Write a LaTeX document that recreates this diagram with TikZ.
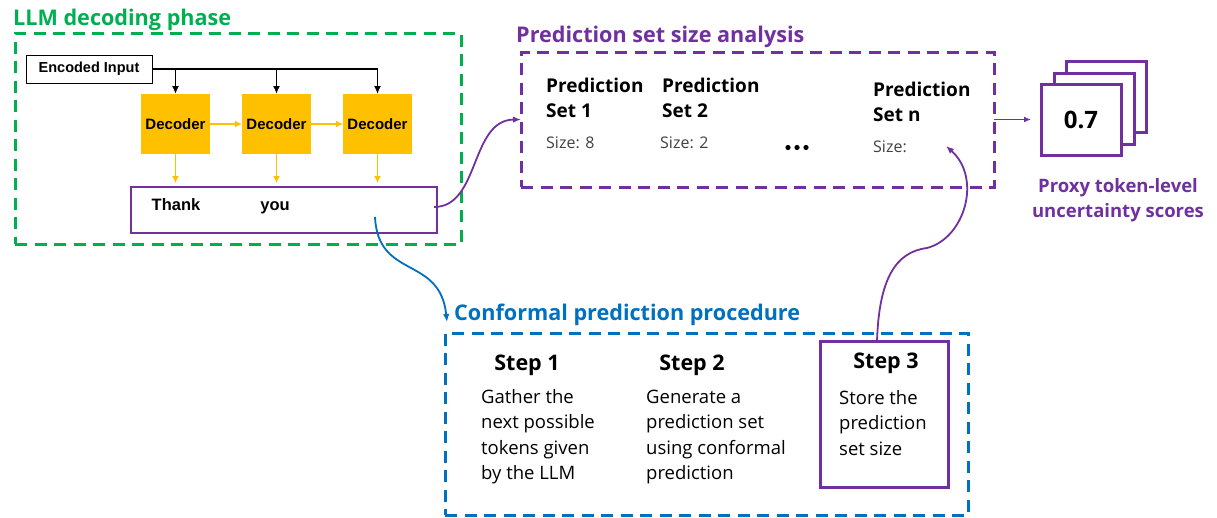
\documentclass[tikz,border=0pt]{standalone}
\usepackage{fontspec}
\setmainfont{Open Sans}
\newfontfamily\arialfont{Liberation Sans}
\usetikzlibrary{arrows.meta}

\definecolor{llmgreen}{RGB}{0,176,80}
\definecolor{setpurple}{RGB}{112,48,160}
\definecolor{cpblue}{RGB}{0,112,192}
\definecolor{decyellow}{RGB}{255,192,0}
\definecolor{sizegray}{RGB}{64,64,64}

\tikzset{
  phasebox/.style={draw, line width=3pt, dash pattern=on 12pt off 7.5pt,
    anchor=north west, inner sep=0pt, outer sep=0pt},
  phasetitle/.style={anchor=base west, inner sep=0pt,
    font=\bfseries\fontsize{21.6}{26}\selectfont},
  decoder/.style={fill=decyellow, minimum width=69pt, minimum height=60pt,
    inner sep=0pt, anchor=north west, outer sep=0pt,
    font=\arialfont\bfseries\fontsize{15}{18}\selectfont},
  arialbold/.style={inner sep=0pt, font=\arialfont\bfseries\fontsize{16.5}{20}\selectfont},
  predhead/.style={anchor=base west, inner sep=0pt, font=\bfseries\fontsize{19}{23}\selectfont},
  sizetxt/.style={anchor=base west, inner sep=0pt, text=sizegray, font=\fontsize{16}{19}\selectfont},
  steptitle/.style={anchor=base, inner sep=0pt, font=\bfseries\fontsize{21.5}{26}\selectfont},
  steptxt/.style={anchor=base west, inner sep=0pt, font=\fontsize{18.5}{22}\selectfont},
  card/.style={draw=setpurple, fill=white, line width=3pt, anchor=north west,
    minimum width=80pt, minimum height=71pt, inner sep=0pt, outer sep=0pt},
  blkarrow/.style={draw=black, line width=1.8pt, -{Latex[length=8pt,width=7pt]}},
  yelarrow/.style={draw=decyellow, line width=1.8pt, -{Latex[length=7pt,width=7pt]}},
  curvearrow/.style={line width=1.8pt, -{Latex[length=8pt,width=6.5pt]}},
}

\begin{document}
\begin{tikzpicture}[x=1pt,y=-1pt]
\useasboundingbox (0,0) rectangle (1217,517);

% ---------- LLM decoding phase ----------
\node[phasetitle, text=llmgreen] (llmtitle) at (13,25) {LLM decoding phase};
\node[phasebox, draw=llmgreen, minimum width=446pt, minimum height=211pt] (llm) at (15,33) {};

\node[draw=black, line width=1pt, anchor=north west, minimum width=126pt,
      minimum height=28pt, inner sep=0pt, outer sep=0pt,
      font=\arialfont\bfseries\fontsize{14.5}{18}\selectfont] (enc) at (26,55) {Encoded Input};

\node[decoder] (dec1) at (141,94) {Decoder};
\node[decoder] (dec2) at (242,94) {Decoder};
\node[decoder] (dec3) at (343,94) {Decoder};

% shared input bus feeding every decoder
\draw[line width=1.8pt] (enc.east) -- (enc.east -| dec3.north);
\draw[blkarrow] (enc.east -| dec1.north) -- (dec1.north);
\draw[blkarrow] (enc.east -| dec2.north) -- (dec2.north);
\draw[blkarrow] (enc.east -| dec3.north) -- (dec3.north);

% generated token strip
\node[draw=setpurple, line width=2pt, anchor=north west, minimum width=306pt,
      minimum height=46pt, inner sep=0pt, outer sep=0pt] (out) at (131,187) {};
\node[arialbold, anchor=base] (thank) at (176,210) {Thank};
\node[arialbold, anchor=base] (you) at (275,210) {you};

\draw[yelarrow] (dec1.east) -- (dec2.west);
\draw[yelarrow] (dec2.east) -- (dec3.west);
\draw[yelarrow, shorten >=4pt] (dec1.south) -- (dec1.south |- out.north);
\draw[yelarrow, shorten >=4pt] (dec2.south) -- (dec2.south |- out.north);
\draw[yelarrow, shorten >=4pt] (dec3.south) -- (dec3.south |- out.north);

% ---------- Prediction set size analysis ----------
\node[phasetitle, text=setpurple] (psatitle) at (516,42) {Prediction set size analysis};
\node[phasebox, draw=setpurple, minimum width=473pt, minimum height=135pt] (psa) at (521,52) {};

\node[predhead] (p1a) at (546,92) {Prediction};
\node[predhead] (p1b) at (546,117) {Set 1};
\node[sizetxt]  (p1c) at (546,148) {Size: 8};
\node[predhead] (p2a) at (662,92) {Prediction};
\node[predhead] (p2b) at (662,117) {Set 2};
\node[sizetxt]  (p2c) at (660,148) {Size: 2};
\node[predhead] (pna) at (873,96) {Prediction};
\node[predhead] (pnb) at (873,121) {Set n};
\node[sizetxt]  (pnc) at (873,152) {Size:};
\foreach \dx in {788,797,806} \fill (\dx,147.5) circle (2.6pt);

% stacked score cards
\node[card] (cardback) at (1066,61) {};
\node[card] (cardmid) at (1054,73) {};
\node[card, font=\bfseries\fontsize{24}{28}\selectfont] (cardfront) at (1041,84) {0.7};
\draw[setpurple, line width=1.8pt, -{Latex[length=7pt,width=6pt]}] (psa.east) -- ([xshift=-10pt]psa.east -| cardfront.west);

\node[anchor=base, inner sep=0pt, text=setpurple,
      font=\bfseries\fontsize{18.5}{25}\selectfont] (proxy1) at (1118,192) {Proxy token-level};
\node[anchor=base, inner sep=0pt, text=setpurple,
      font=\bfseries\fontsize{18.5}{25}\selectfont] (proxy2) at (1118,217) {uncertainty scores};

% ---------- Conformal prediction procedure ----------
\node[phasetitle, text=cpblue] (cpptitle) at (454,320) {Conformal prediction procedure};
\node[phasebox, draw=cpblue, minimum width=523pt, minimum height=182pt] (cpp) at (445,333) {};

\node[draw=setpurple, line width=3pt, anchor=north west, minimum width=128pt,
      minimum height=146pt, inner sep=0pt, outer sep=0pt] (step3box) at (820,341) {};

\node[steptitle] (s1t) at (527,370) {Step 1};
\node[steptxt] (s1l1) at (481,403) {Gather the};
\node[steptxt] (s1l2) at (481,428.5) {next possible};
\node[steptxt] (s1l3) at (481,454) {tokens given};
\node[steptxt] (s1l4) at (481,479.5) {by the LLM};

\node[steptitle] (s2t) at (692,370) {Step 2};
\node[steptxt] (s2l1) at (646,403) {Generate a};
\node[steptxt] (s2l2) at (646,428.5) {prediction set};
\node[steptxt] (s2l3) at (646,454) {using conformal};
\node[steptxt] (s2l4) at (646,479.5) {prediction};

\node[steptitle] (s3t) at (886,368) {Step 3};
\node[steptxt] (s3l1) at (839,404) {Store the};
\node[steptxt] (s3l2) at (839,429.5) {prediction};
\node[steptxt] (s3l3) at (839,455) {set size};

% ---------- flow between the phases ----------
\coordinate (pick) at (375,217);
\coordinate (cpin) at (447,322);
\coordinate (sizen) at (946,146);
\coordinate (bend) at (927,248);

\draw[curvearrow, setpurple] ([xshift=-3pt,yshift=3pt]out.east) .. controls (480,207) and (470,120) .. (psa.west);
\draw[curvearrow, cpblue] (pick) .. controls (378,280) and (440,255) .. (cpin);
\draw[curvearrow, setpurple] ([xshift=-7pt]step3box.north) .. controls (879,280) and (895,252) .. (bend)
      .. controls (965,238) and (982,178) .. (sizen);
\end{tikzpicture}
\end{document}
